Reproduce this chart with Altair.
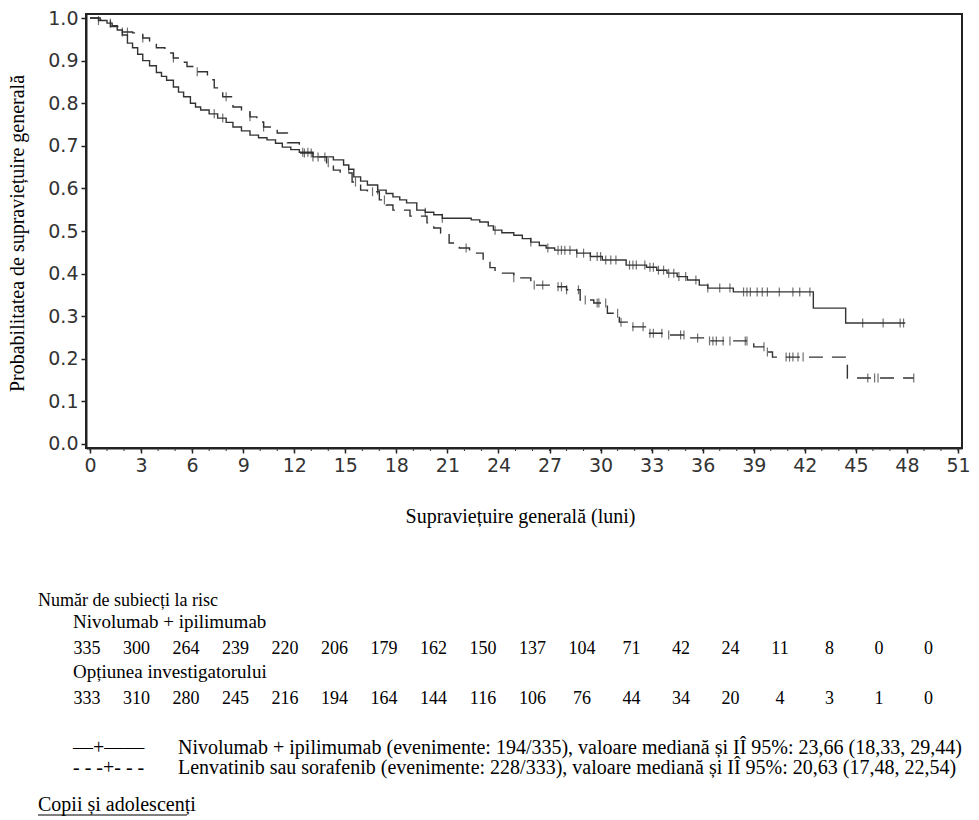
import altair as alt
import pandas as pd

# Kaplan-Meier step curves: time (months) and survival probability after each step
nivo_t = [0, 0.5, 1.0, 1.3, 1.6, 1.9, 2.2, 2.5, 2.8, 3.1, 3.5, 3.9, 4.2, 4.5, 4.9, 5.2,
          5.5, 5.9, 6.2, 6.5, 7.0, 7.5, 8.0, 8.4, 8.9, 9.4, 9.9, 10.4, 10.9, 11.3, 11.8,
          12.3, 13.1, 14.3, 14.9, 15.2, 15.5, 15.9, 16.3, 16.9, 17.4, 17.8, 18.2, 18.6,
          19.2, 19.7, 20.2, 20.7, 22.4, 22.9, 23.4, 23.7, 24.2, 24.9, 25.4, 25.9, 26.4,
          26.8, 27.3, 28.6, 29.4, 30.1, 31.5, 32.7, 33.3, 33.9, 34.5, 35.1, 35.8, 36.3,
          37.8, 42.5, 44.4, 47.9]
nivo_s = [1.0, 0.994, 0.988, 0.982, 0.972, 0.96, 0.941, 0.93, 0.915, 0.90, 0.888, 0.872,
          0.863, 0.854, 0.838, 0.826, 0.815, 0.80, 0.791, 0.784, 0.775, 0.765, 0.755,
          0.744, 0.735, 0.725, 0.719, 0.714, 0.706, 0.697, 0.691, 0.685, 0.674, 0.667,
          0.655, 0.645, 0.627, 0.617, 0.608, 0.596, 0.588, 0.58, 0.573, 0.566, 0.549,
          0.544, 0.538, 0.53, 0.526, 0.521, 0.512, 0.502, 0.496, 0.49, 0.482, 0.474,
          0.466, 0.46, 0.455, 0.448, 0.44, 0.432, 0.42, 0.415, 0.408, 0.401, 0.393,
          0.385, 0.373, 0.366, 0.357, 0.319, 0.284, 0.284]

lenv_t = [0, 0.6, 1.2, 1.9, 2.5, 3.1, 3.5, 3.9, 4.4, 4.9, 5.3, 5.7, 6.3, 6.9, 7.3, 7.8,
          8.4, 8.9, 9.4, 9.8, 10.2, 11.0, 11.6, 12.3, 13.1, 13.9, 14.3, 14.7, 15.4, 15.9,
          16.3, 17.0, 17.4, 17.8, 18.8, 19.8, 20.2, 20.6, 21.1, 21.7, 22.3, 23.1, 23.5,
          23.8, 24.9, 25.9, 27.2, 28.0, 28.8, 29.6, 30.4, 31.1, 31.9, 32.7, 33.9, 35.0,
          36.4, 39.0, 39.8, 40.1, 44.5, 48.4]
lenv_s = [1.0, 0.995, 0.98, 0.967, 0.965, 0.953, 0.942, 0.93, 0.918, 0.906, 0.896, 0.886,
          0.874, 0.855, 0.836, 0.815, 0.791, 0.78, 0.768, 0.756, 0.744, 0.73, 0.707,
          0.683, 0.674, 0.66, 0.643, 0.636, 0.615, 0.596, 0.592, 0.573, 0.561, 0.549,
          0.535, 0.519, 0.507, 0.495, 0.472, 0.46, 0.448, 0.427, 0.414, 0.401, 0.39,
          0.373, 0.369, 0.362, 0.338, 0.331, 0.307, 0.286, 0.275, 0.26, 0.256, 0.249,
          0.242, 0.228, 0.216, 0.204, 0.155, 0.155]

# Censoring times (months)
nivo_cens = [0.5, 1.2, 7.3, 7.8, 12.5, 12.8, 13.1, 13.4, 13.8, 15.2, 16.9, 19.7, 20.7,
             23.8, 25.9, 26.9, 27.5, 27.7, 27.9, 28.2, 28.6, 29.0, 29.4, 29.8, 30.0, 30.3,
             30.6, 30.9, 31.7, 31.9, 32.1, 32.6, 32.9, 33.1, 33.4, 33.7, 34.0, 34.3, 34.6,
             35.0, 35.6, 36.3, 37.0, 37.6, 38.4, 38.6, 38.8, 39.2, 39.5, 39.8, 40.5, 41.3,
             41.7, 42.3, 45.4, 46.6, 47.6, 47.8]
lenv_cens = [1.9, 2.2, 3.1, 4.9, 6.3, 8.0, 9.4, 10.2, 12.6, 13.0, 14.0, 15.6, 16.6, 17.3,
             22.1, 24.9, 26.1, 26.6, 27.5, 27.7, 28.0, 28.7, 29.1, 29.8, 29.9, 30.3, 31.0,
             31.2, 31.9, 32.5, 32.9, 33.1, 33.6, 34.0, 34.7, 34.9, 35.7, 36.4, 36.6, 36.8,
             37.2, 37.6, 38.5, 38.6, 39.6, 39.8, 40.9, 41.1, 41.3, 41.6, 41.9, 45.7, 46.1,
             46.3, 48.4]

# Number at risk table
risk_months = list(range(0, 52, 3))
risk_nivo = [335, 300, 264, 239, 220, 206, 179, 162, 150, 137, 104, 71, 42, 24, 11, 8, 0, 0]
risk_inv = [333, 310, 280, 245, 216, 194, 164, 144, 116, 106, 76, 44, 34, 20, 4, 3, 1, 0]

arm_names = ["Nivolumab + ipilimumab", "Lenvatinib sau sorafenib"]

legend_lines = [
    "Nivolumab + ipilimumab (evenimente: 194/335), valoare mediană și IÎ 95%: 23,66 (18,33, 29,44)",
    "Lenvatinib sau sorafenib (evenimente: 228/333), valoare mediană și IÎ 95%: 20,63 (17,48, 22,54)",
]
legend_keys = ["—+——", "- - -+- - -"]

# ---------------------------------------------------------------- tables
curves = pd.concat([
    pd.DataFrame({"t": nivo_t, "s": nivo_s, "arm": arm_names[0]}),
    pd.DataFrame({"t": lenv_t, "s": lenv_s, "arm": arm_names[1]}),
], ignore_index=True)


def censor_points(times, t, s, arm):
    cens = pd.DataFrame({"t": sorted(times)})
    step = pd.DataFrame({"t": t, "s": s})
    out = pd.merge_asof(cens, step, on="t", direction="backward")
    out["arm"] = arm
    return out


censors = pd.concat([
    censor_points(nivo_cens, nivo_t, nivo_s, arm_names[0]),
    censor_points(lenv_cens, lenv_t, lenv_s, arm_names[1]),
], ignore_index=True)

risk = pd.DataFrame({"m": risk_months, "nivo": risk_nivo, "inv": risk_inv})
minor = pd.DataFrame({"m": list(range(0, 52))})

# ---------------------------------------------------------------- layout
W, H = 876, 434
SERIF = "Liberation Serif"
SANS = "DejaVu Sans"
INK = "#333333"

x_scale = alt.Scale(domain=[-0.235, 51.235], nice=False, zero=False)
y_scale = alt.Scale(domain=[-0.0094, 1.0094], nice=False, zero=False)
dash = alt.Scale(domain=arm_names, range=[[1, 0], [14, 9]])

y_axis = alt.Axis(
    values=[i / 10 for i in range(11)], format=".1f",
    title="Probabilitatea de supraviețuire generală",
    titleX=-69, titleY=H / 2 + 2, titleBaseline="middle", titleAlign="center",
    titleAngle=270,
)

lines = alt.Chart(curves).mark_line(
    interpolate="step-after", color=INK, strokeWidth=1.4
).encode(
    x=alt.X("t:Q", scale=x_scale, axis=alt.Axis(
        values=risk_months, title="Supraviețuire generală (luni)", labelFlush=False,
        titleY=68, titleBaseline="middle", titleX=W / 2 - 4,
    )),
    y=alt.Y("s:Q", scale=y_scale, axis=y_axis),
    strokeDash=alt.StrokeDash("arm:N", scale=dash, legend=None),
    detail="arm:N",
)

ticks = alt.Chart(censors).mark_tick(
    orient="vertical", size=9, thickness=1.2, color=INK
).encode(
    x=alt.X("t:Q", scale=x_scale, axis=None),
    y=alt.Y("s:Q", scale=y_scale, axis=y_axis),
)

minor_ticks = alt.Chart(minor).mark_rule(color=INK, strokeWidth=1).encode(
    x=alt.X("m:Q", scale=x_scale, axis=None),
    y=alt.value(H),
    y2=alt.value(H + 3),
)

# number-at-risk columns use their own horizontal scale
risk_scale = alt.Scale(domain=[-0.0606, 53.03], nice=False, zero=False)


def risk_row(field, ypix):
    return alt.Chart(risk).mark_text(
        font=SERIF, fontSize=18, color="black", align="center", baseline="middle"
    ).encode(
        x=alt.X("m:Q", scale=risk_scale, axis=None),
        y=alt.value(ypix),
        text=f"{field}:Q",
    )


def label(text, xpix, ypix, size=19):
    return alt.Chart(pd.DataFrame({"txt": [text]})).mark_text(
        font=SERIF, fontSize=size, color="black", align="left", baseline="middle"
    ).encode(x=alt.value(xpix), y=alt.value(ypix), text="txt:N")


texts = [
    label("Număr de subiecți la risc", -48, 587, 18),
    label(arm_names[0], -13, 608),
    label("Opțiunea investigatorului", -13, 658),
    label(legend_keys[0], -13, 734, 20),
    label(legend_lines[0], 92, 734, 20),
    label(legend_keys[1], -13, 754, 20),
    label(legend_lines[1], 92, 754, 20),
    label("Copii și adolescenți", -48, 791, 20),
]

underline = alt.Chart(pd.DataFrame({"k": [0]})).mark_rule(color="black", strokeWidth=1).encode(
    x=alt.value(-48), x2=alt.value(101), y=alt.value(801)
)

chart = alt.layer(
    lines, ticks, minor_ticks,
    risk_row("nivo", 635), risk_row("inv", 685),
    *texts, underline,
).resolve_scale(
    x="independent"
).properties(
    width=W, height=H,
    padding={"left": 86, "top": 14, "right": 17, "bottom": 372},
    autosize=alt.AutoSizeParams(type="none"),
    background="white",
).configure_view(
    stroke="#222222", strokeWidth=2
).configure_axis(
    grid=False,
    domainColor="#222222", domainWidth=2,
    tickColor="#222222", tickWidth=1.5, tickSize=5,
    labelFont=SANS, labelFontSize=19, labelColor=INK, labelPadding=3,
    titleFont=SERIF, titleFontSize=20, titleFontWeight="normal", titleColor="black",
)

chart.save("out.html", embed_options={"renderer": "svg", "actions": False})
